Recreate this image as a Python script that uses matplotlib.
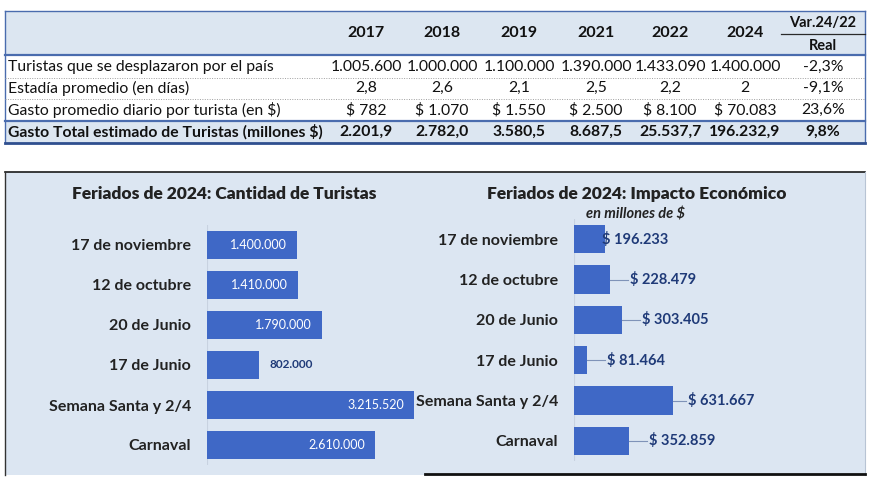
import matplotlib
matplotlib.use("Agg")
import matplotlib.pyplot as plt
from matplotlib.lines import Line2D
from matplotlib.patches import Rectangle

# ---------------- data ----------------
years = ["2017", "2018", "2019", "2021", "2022", "2024"]
row_labels = [
    "Turistas que se desplazaron por el país",
    "Estadía promedio (en días)",
    "Gasto promedio diario por turista (en $)",
    "Gasto Total estimado de Turistas (millones $)",
]
turistas_row = ["1.005.600", "1.000.000", "1.100.000", "1.390.000", "1.433.090", "1.400.000"]
estadia_row = ["2,8", "2,6", "2,1", "2,5", "2,2", "2"]
gasto_diario_row = ["$ 782", "$ 1.070", "$ 1.550", "$ 2.500", "$ 8.100", "$ 70.083"]
gasto_total_row = ["2.201,9", "2.782,0", "3.580,5", "8.687,5", "25.537,7", "196.232,9"]
var_col = ["-2,3%", "-9,1%", "23,6%", "9,8%"]

feriados = ["17 de noviembre", "12 de octubre", "20 de Junio", "17 de Junio",
            "Semana Santa y 2/4", "Carnaval"]
turistas_2024 = [1400000, 1410000, 1790000, 802000, 3215520, 2610000]
impacto_2024 = [196233, 228479, 303405, 81464, 631667, 352859]   # millones de $

title_left = "Feriados de 2024: Cantidad de Turistas"
title_right = "Feriados de 2024: Impacto Económico"
subtitle_right = "en millones de $"

# ---------------- style ----------------
W, H = 875, 482
FONT = "Lato"
BLUE_LINE = "#4a6cae"
HEADER_FILL = "#dce6f1"
PANEL_FILL = "#dce6f2"
BAR = "#3f68c6"
NAVY = "#1f3a78"
TXT = "#111111"

fig = plt.figure(figsize=(W / 100, H / 100), dpi=100)
fig.patch.set_facecolor("white")


def fx(x):
    return x / W


def fy(y):
    return 1 - y / H


def ptext(x, y, s, **kw):
    kw.setdefault("family", FONT)
    fig.text(fx(x), fy(y), s, **kw)


def hline(x0, x1, y, **kw):
    fig.add_artist(Line2D([fx(x0), fx(x1)], [fy(y), fy(y)], transform=fig.transFigure, **kw))


def vline(x, y0, y1, **kw):
    fig.add_artist(Line2D([fx(x), fx(x)], [fy(y0), fy(y1)], transform=fig.transFigure, **kw))


def prect(x0, y0, x1, y1, **kw):
    fig.add_artist(Rectangle((fx(x0), fy(y1)), fx(x1) - fx(x0), fy(y0) - fy(y1),
                             transform=fig.transFigure, **kw))


# ---------------- table ----------------
TL, TR, TT, TB = 5, 865, 11, 143
HDR_B = 55
row_y = [67, 88, 110, 132]
col_x = [366, 442, 519, 596, 670, 745, 823]
TFS = 11.3

prect(TL, TT, TR, HDR_B, facecolor=HEADER_FILL, edgecolor="none", zorder=0)
prect(TL, 121, TR, TB, facecolor=HEADER_FILL, edgecolor="none", zorder=0)
hline(TL, TR, TT, color=BLUE_LINE, lw=1.0)
vline(TL, TT, TB, color=BLUE_LINE, lw=1.0)
vline(TR, TT, TB, color=BLUE_LINE, lw=1.0)
hline(TL, TR, HDR_B, color=BLUE_LINE, lw=1.6)
hline(TL, TR, 77.5, color="#a0a0a0", lw=0.7, ls=(0, (1, 1.5)))
hline(TL, TR, 99.5, color="#a0a0a0", lw=0.7, ls=(0, (1, 1.5)))
hline(TL, TR, 121, color=BLUE_LINE, lw=1.6)
hline(TL, TR, TB, color="#2f4f8f", lw=2.0)
hline(781, TR, 34, color="#2a2a2a", lw=0.9)

for x, yr in zip(col_x, years):
    ptext(x, 33, yr, ha="center", va="center", fontsize=11.5, weight="bold", color=TXT)
ptext(col_x[-1], 23, "Var.24/22", ha="center", va="center", fontsize=10.5, weight="bold", color=TXT)
ptext(col_x[-1], 46, "Real", ha="center", va="center", fontsize=10.5, weight="bold", color=TXT)

rows = [turistas_row, estadia_row, gasto_diario_row, gasto_total_row]
for i, (lab, vals) in enumerate(zip(row_labels, rows)):
    bold = "bold" if i == 3 else "normal"
    ptext(8, row_y[i], lab, ha="left", va="center", fontsize=TFS, weight=bold, color=TXT)
    for x, v in zip(col_x, vals):
        ptext(x, row_y[i], v, ha="center", va="center", fontsize=TFS, weight=bold, color=TXT)
    ptext(col_x[-1], row_y[i], var_col[i], ha="center", va="center", fontsize=TFS,
          weight=bold, color=TXT)

# ---------------- bottom panel ----------------
PT, PB = 172, 475
prect(5, PT, 865, PB, facecolor=PANEL_FILL, edgecolor="none", zorder=0)
hline(5, 865, PT, color="#1a1a1a", lw=1.2)
vline(5, PT, PB, color="#333333", lw=1.0)
vline(865, PT, PB, color="#b8c4d4", lw=0.8)
hline(425, 865, 474, color="#111111", lw=2.0)

ptext(224, 194, title_left, ha="center", va="center", fontsize=12.5, weight="heavy", color="#222222")
ptext(637, 194, title_right, ha="center", va="center", fontsize=12.5, weight="heavy", color="#222222")
ptext(635, 215, subtitle_right, ha="center", va="center", fontsize=10.5, weight="bold",
      style="italic", color="#222222")


def make_axes(x0, top, bottom, width):
    ax = fig.add_axes([fx(x0), fy(bottom), fx(width), (bottom - top) / H])
    ax.set_facecolor("none")
    for s in ax.spines.values():
        s.set_visible(False)
    ax.tick_params(left=False, bottom=False, labelbottom=False)
    return ax


n = len(feriados)
ypos = list(range(n))

# left chart: 64.3 px per million tourists
axL = make_axes(207, 225, 465, 220)
axL.set_xlim(0, 220 / 64.3e-6)
axL.set_ylim(n - 0.5, -0.5)
axL.barh(ypos, turistas_2024, height=0.68, color=BAR, zorder=2)
axL.set_yticks(ypos)
axL.set_yticklabels(feriados, fontsize=11.5, weight="bold", family=FONT, color="#222222")
axL.tick_params(axis="y", pad=8)
axL.axvline(0, color="#c8d2e0", lw=0.8, zorder=1)
px_L = (220 / 64.3e-6) / 220  # data units per pixel
for i, v in enumerate(turistas_2024):
    lab = f"{v:,}".replace(",", ".")
    if v > 1000000:
        axL.text(v - 10 * px_L, i, lab, ha="right", va="center", fontsize=9,
                 family=FONT, color="white", zorder=3)
    else:
        axL.text(v + 11 * px_L, i, lab, ha="left", va="center", fontsize=8.5,
                 family=FONT, weight="bold", color=NAVY, zorder=3)

# right chart: 0.1567 px per thousand millones $
axR = make_axes(574, 219, 461, 290)
axR.set_xlim(0, 290 / 0.1567e-3)
axR.set_ylim(n - 0.5, -0.5)
axR.barh(ypos, impacto_2024, height=0.7, color=BAR, zorder=2)
axR.set_yticks(ypos)
axR.set_yticklabels(feriados, fontsize=11.5, weight="bold", family=FONT, color="#222222")
axR.tick_params(axis="y", pad=8)
axR.axvline(0, color="#c8d2e0", lw=0.8, zorder=1)
px_R = (290 / 0.1567e-3) / 290
label_gap_px = [-3, 20, 20, 20, 15, 20]
for i, v in enumerate(impacto_2024):
    lab = "$ " + f"{v:,}".replace(",", ".")
    gap = label_gap_px[i]
    if gap > 0:
        axR.plot([v, v + (gap - 2) * px_R], [i, i], color="#7f93b8", lw=0.8, zorder=2)
    axR.text(v + gap * px_R, i, lab, ha="left", va="center", fontsize=10.5,
             family=FONT, weight="bold", color=NAVY, zorder=3)

fig.savefig("out.png", dpi=100, facecolor="white")
